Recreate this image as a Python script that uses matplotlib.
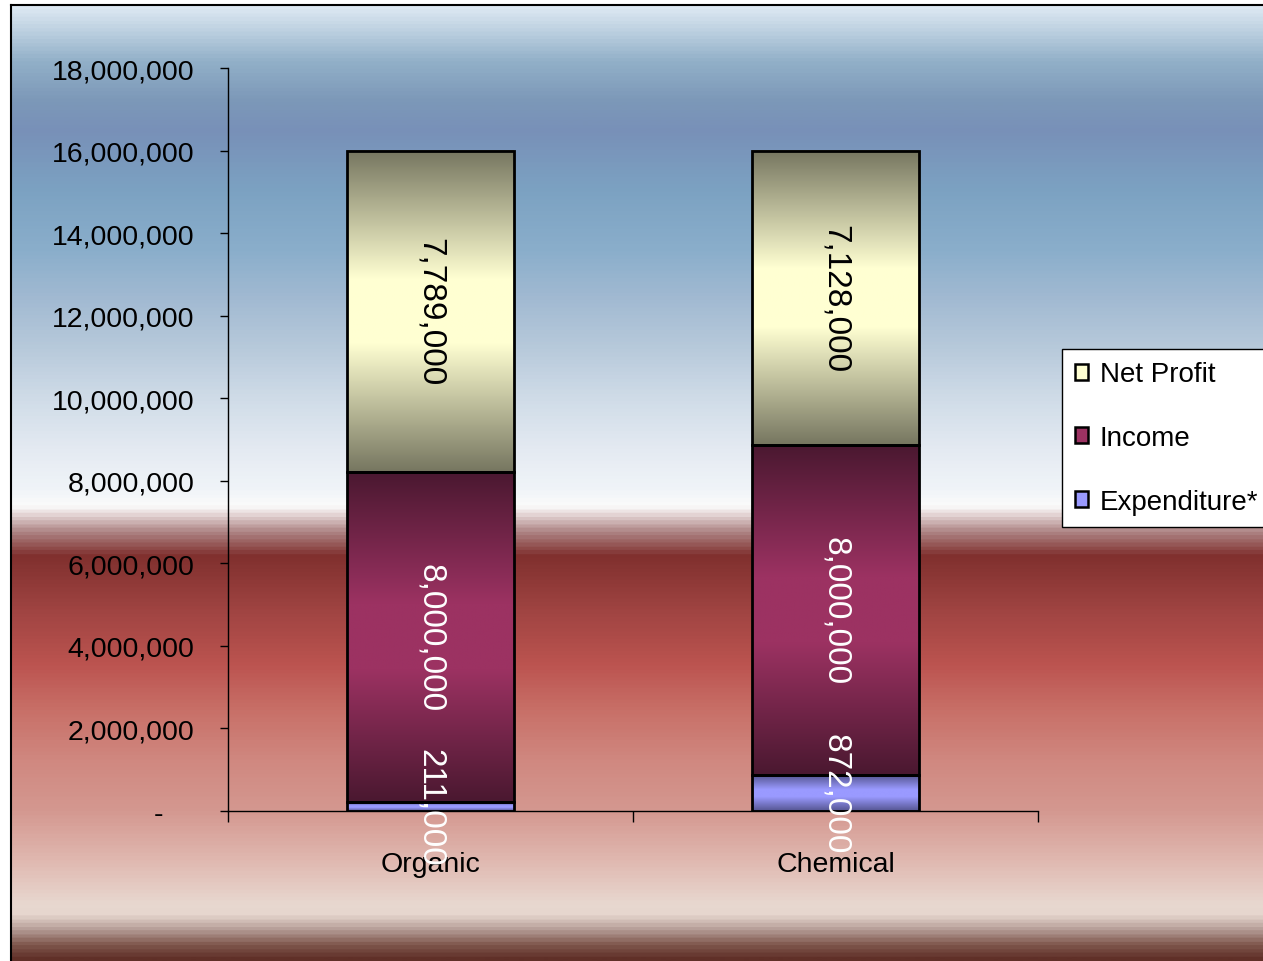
import numpy as np
import matplotlib
matplotlib.use("Agg")
import matplotlib.pyplot as plt
from matplotlib.colors import LinearSegmentedColormap
from matplotlib.patches import Patch
from matplotlib.ticker import FuncFormatter, FixedLocator
from matplotlib import font_manager

# ---- data ----
categories = ["Organic", "Chemical"]
expenditure = [211000, 872000]
income = [8000000, 8000000]
net_profit = [7789000, 7128000]
series_names = ["Expenditure*", "Income", "Net Profit"]
y_ticks = [0, 2000000, 4000000, 6000000, 8000000, 10000000,
           12000000, 14000000, 16000000, 18000000]

# ---- fonts ----
installed = {f.name for f in font_manager.fontManager.ttflist}
narrow = "Liberation Sans Narrow" if "Liberation Sans Narrow" in installed else "Liberation Sans"
plt.rcParams["font.family"] = [narrow, "DejaVu Sans"]
AXIS_FS = 20.5

W, H = 1263, 962
fig = plt.figure(figsize=(W / 100, H / 100), dpi=100)
fig.patch.set_facecolor("white")

# ---- banded background panel ----
top_px, bot_px = 6, 962
bg_stops = [
    (6, "#dce8f2"), (30, "#bcd0e0"), (60, "#92b0c8"), (100, "#7c98b8"),
    (130, "#7890b8"), (190, "#7ca2c2"), (250, "#8aaecb"), (300, "#a2bad2"),
    (350, "#b8cadb"), (400, "#d0dce8"), (450, "#e4eaf2"), (490, "#f0f4f8"),
    (507, "#fbfbfb"), (515, "#e6d8d8"), (532, "#b08888"), (557, "#80302e"),
    (613, "#a04442"), (667, "#bc5450"), (713, "#c87068"), (763, "#d08880"),
    (813, "#d49890"), (863, "#e0b8b0"), (908, "#e8d8d0"), (918, "#e6d6ce"),
    (932, "#b8a09a"), (948, "#80584e"), (962, "#603028"),
]
bg_cmap = LinearSegmentedColormap.from_list(
    "bg", [((p - top_px) / (bot_px - top_px), c) for p, c in bg_stops])
bg_ax = fig.add_axes([11 / W, 0, 1 - 11 / W, 1 - top_px / H], zorder=0)
bg_ax.imshow(np.linspace(0, 1, 900).reshape(-1, 1), cmap=bg_cmap,
             aspect="auto", extent=[0, 1, 0, 1], interpolation="bilinear")
bg_ax.set_xticks([])
bg_ax.set_yticks([])
for side in ("right", "bottom"):
    bg_ax.spines[side].set_visible(False)
for side in ("left", "top"):
    bg_ax.spines[side].set_linewidth(1.5)
    bg_ax.spines[side].set_color("black")

# ---- main chart ----
ax = fig.add_axes([228 / W, 1 - 812 / H, (1038 - 228) / W, (812 - 69) / H], zorder=1)
ax.set_facecolor("none")

x = np.arange(len(categories))
bar_w = 0.41

segment_styles = {
    "Expenditure*": ("#555590", "#9a9aff", "white"),
    "Income": ("#4a1830", "#9c3262", "white"),
    "Net Profit": ("#767660", "#ffffd2", "black"),
}

def gradient_cmap(edge, mid):
    return LinearSegmentedColormap.from_list(
        "seg", [(0, edge), (0.4, mid), (0.5, mid), (0.6, mid), (1, edge)])

bottoms = np.zeros(len(categories))
grad = np.linspace(0, 1, 256).reshape(-1, 1)
for name, vals in zip(series_names, [expenditure, income, net_profit]):
    edge, mid, txt_color = segment_styles[name]
    bars = ax.bar(x, vals, bar_w, bottom=bottoms, facecolor="none",
                  edgecolor="black", linewidth=2, zorder=3)
    cmap = gradient_cmap(edge, mid)
    for rect, v, b in zip(bars, vals, bottoms):
        x0 = rect.get_x()
        ax.imshow(grad, cmap=cmap, aspect="auto", interpolation="bilinear",
                  extent=[x0, x0 + rect.get_width(), b, b + v], zorder=2)
        ax.text(x0 + rect.get_width() / 2, b + v / 2, f"{v:,}",
                rotation=270, ha="center", va="center", fontsize=24,
                family=["Liberation Sans", "DejaVu Sans"], color=txt_color, zorder=4)
    bottoms = bottoms + np.array(vals)

ax.set_xlim(-0.5, len(categories) - 0.5)
ax.set_ylim(0, 18000000)

# axes / ticks
for side in ("top", "right"):
    ax.spines[side].set_visible(False)
for side in ("left", "bottom"):
    ax.spines[side].set_linewidth(1.0)
    ax.spines[side].set_color("black")

ax.yaxis.set_major_locator(FixedLocator(y_ticks))
ax.yaxis.set_major_formatter(FuncFormatter(lambda v, p: "-    " if v == 0 else f"{v:,.0f}"))
ax.tick_params(axis="y", direction="out", length=6, width=1, pad=18, labelsize=AXIS_FS)

ax.set_xticks(np.arange(len(categories) + 1) - 0.5)
ax.set_xticklabels([])
ax.tick_params(axis="x", which="major", direction="out", length=8, width=1)
ax.set_xticks(x, minor=True)
ax.set_xticklabels(categories, minor=True)
ax.tick_params(axis="x", which="minor", length=0, pad=28.5, labelsize=AXIS_FS)

# ---- legend ----
handles = [Patch(facecolor=segment_styles[n][1], edgecolor="black", linewidth=1.8)
           for n in series_names[::-1]]
leg = fig.legend(handles, series_names[::-1], loc="upper left",
                 bbox_to_anchor=(1062 / W, 1 - 350 / H), fontsize=20,
                 frameon=True, fancybox=False, framealpha=1, edgecolor="black",
                 borderpad=0.45, labelspacing=1.35, handlelength=0.5,
                 handleheight=0.5, handletextpad=0.4, borderaxespad=0)
leg.get_frame().set_linewidth(1.0)
leg.set_zorder(5)

fig.savefig("out.png", dpi=100, facecolor=fig.get_facecolor())
